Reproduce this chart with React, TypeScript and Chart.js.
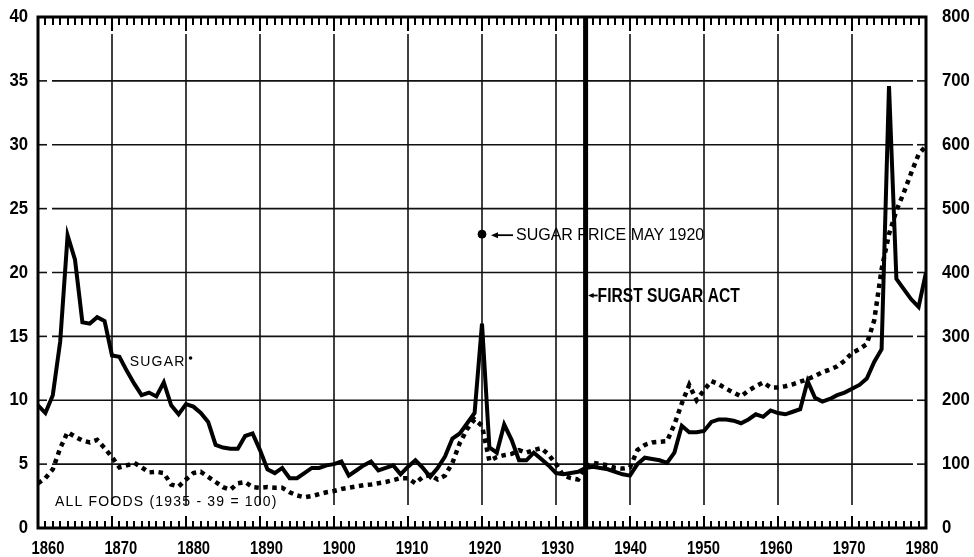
import React, { useEffect, useRef } from "react";
import { Chart, registerables } from "chart.js";

Chart.register(...registerables);

// ---------- data ----------
const years: number[] = [
  1860, 1861, 1862, 1863, 1864, 1865, 1866, 1867, 1868, 1869,
  1870, 1871, 1872, 1873, 1874, 1875, 1876, 1877, 1878, 1879,
  1880, 1881, 1882, 1883, 1884, 1885, 1886, 1887, 1888, 1889,
  1890, 1891, 1892, 1893, 1894, 1895, 1896, 1897, 1898, 1899,
  1900, 1901, 1902, 1903, 1904, 1905, 1906, 1907, 1908, 1909,
  1910, 1911, 1912, 1913, 1914, 1915, 1916, 1917, 1918, 1919,
  1920, 1921, 1922, 1923, 1924, 1925, 1926, 1927, 1928, 1929,
  1930, 1931, 1932, 1933, 1934, 1935, 1936, 1937, 1938, 1939,
  1940, 1941, 1942, 1943, 1944, 1945, 1946, 1947, 1948, 1949,
  1950, 1951, 1952, 1953, 1954, 1955, 1956, 1957, 1958, 1959,
  1960, 1961, 1962, 1963, 1964, 1965, 1966, 1967, 1968, 1969,
  1970, 1971, 1972, 1973, 1974, 1975, 1976, 1977, 1978, 1979,
  1980,
];

// Sugar retail price, cents per pound (left axis)
const sugarPrice: number[] = [
  9.6, 9.0, 10.4, 14.6, 22.9, 21.0, 16.1, 16.0, 16.5, 16.2,
  13.5, 13.4, 12.3, 11.3, 10.4, 10.6, 10.3, 11.4, 9.6, 8.9,
  9.7, 9.5, 9.0, 8.3, 6.5, 6.3, 6.2, 6.2, 7.2, 7.4,
  6.1, 4.6, 4.3, 4.7, 3.9, 3.9, 4.3, 4.7, 4.7, 4.9,
  5.0, 5.2, 4.1, 4.5, 4.9, 5.2, 4.5, 4.7, 4.9, 4.2,
  4.8, 5.3, 4.7, 4.0, 4.7, 5.6, 7.0, 7.4, 8.2, 9.0,
  16.0, 6.3, 5.9, 8.1, 6.9, 5.3, 5.3, 5.9, 5.4, 4.9,
  4.3, 4.2, 4.3, 4.4, 4.7, 4.8, 4.7, 4.6, 4.4, 4.2,
  4.1, 5.0, 5.5, 5.4, 5.3, 5.1, 5.9, 8.0, 7.5, 7.5,
  7.6, 8.3, 8.5, 8.5, 8.4, 8.2, 8.5, 8.9, 8.7, 9.2,
  9.0, 8.9, 9.1, 9.3, 11.5, 10.2, 9.9, 10.1, 10.4, 10.6,
  10.9, 11.2, 11.7, 13.0, 14.0, 34.6, 19.5, 18.7, 17.9, 17.3,
  20.0,
];

// All foods price index, 1935-39 = 100 (right axis)
const allFoodsIndex: number[] = [
  70, 78, 92, 125, 150, 143, 137, 134, 138, 125,
  111, 95, 98, 102, 95, 87, 88, 86, 68, 65,
  76, 86, 88, 80, 72, 64, 60, 70, 72, 64,
  63, 64, 63, 63, 56, 51, 48, 50, 53, 56,
  58, 61, 63, 65, 67, 68, 70, 72, 75, 78,
  78, 70, 80, 83, 76, 82, 102, 133, 155, 170,
  160, 105, 111, 114, 116, 122, 118, 122, 125, 115,
  100, 82, 78, 76, 96, 102, 100, 98, 94, 93,
  95, 122, 130, 134, 135, 136, 162, 195, 224, 200,
  216, 230, 225, 218, 212, 206, 215, 222, 228, 220,
  220, 222, 225, 229, 233, 238, 244, 248, 253, 262,
  274, 280, 288, 325, 405, 460, 497, 525, 556, 585,
  598,
];

// Single marked observation: sugar price in May 1920
const mayPointYear: number[] = [1920];
const mayPointPrice: number[] = [23.0];

const sugarActYear = 1934;

const xTickYears: number[] = [1860, 1870, 1880, 1890, 1900, 1910, 1920, 1930, 1940, 1950, 1960, 1970, 1980];
const leftTicks: number[] = [0, 5, 10, 15, 20, 25, 30, 35, 40];
const rightTicks: number[] = [0, 100, 200, 300, 400, 500, 600, 700, 800];

// annotation anchors (data units: [year, left-axis value])
const sugarLabelAt = [1872.4, 13.0];
const foodsLabelAt = [1862.3, 2.0];
const actLabelValue = 18.2;

const SANS = "'Liberation Sans', Arial, Helvetica, sans-serif";

function seg(ctx: CanvasRenderingContext2D, x1: number, y1: number, x2: number, y2: number) {
  ctx.beginPath();
  ctx.moveTo(x1, y1);
  ctx.lineTo(x2, y2);
  ctx.stroke();
}

// draw horizontally condensed text (the original uses a condensed bold face)
function condensed(
  ctx: CanvasRenderingContext2D,
  text: string,
  x: number,
  y: number,
  font: string,
  sx: number,
  align: "left" | "right" | "center"
) {
  ctx.save();
  ctx.font = font;
  ctx.textAlign = align;
  ctx.textBaseline = "middle";
  ctx.translate(x, y);
  ctx.scale(sx, 1);
  ctx.fillText(text, 0, 0);
  ctx.restore();
}

const paperPlugin = {
  id: "paperGrid",
  beforeDatasetsDraw(chart: any) {
    const { ctx, chartArea } = chart;
    const { left, right, top, bottom } = chartArea;
    const x = chart.scales.x;
    const y = chart.scales.y;
    ctx.save();
    ctx.strokeStyle = "#111";
    ctx.lineCap = "butt";
    ctx.setLineDash([]);

    // horizontal grid lines with short ticks at both axes
    ctx.lineWidth = 1.6;
    for (const v of leftTicks) {
      if (v === leftTicks[0] || v === leftTicks[leftTicks.length - 1]) continue;
      const py = y.getPixelForValue(v);
      seg(ctx, left, py, left + 9, py);
      seg(ctx, left + 14, py, right - 13, py);
      seg(ctx, right - 9, py, right, py);
    }

    // vertical decade grid lines
    for (const yr of xTickYears) {
      if (yr === xTickYears[0] || yr === xTickYears[xTickYears.length - 1]) continue;
      const px = x.getPixelForValue(yr);
      seg(ctx, px, top + 17, px, bottom - 23);
    }

    // frame
    ctx.strokeStyle = "#000";
    ctx.lineWidth = 3;
    ctx.strokeRect(left, top, right - left, bottom - top);

    // First Sugar Act line
    ctx.lineWidth = 5;
    const ax = x.getPixelForValue(sugarActYear);
    seg(ctx, ax, top, ax, bottom);
    ctx.restore();
  },
  afterDatasetsDraw(chart: any) {
    const { ctx, chartArea } = chart;
    const { top, bottom } = chartArea;
    const x = chart.scales.x;
    const xl = chart.scales.xl;
    const y = chart.scales.y;
    const y1 = chart.scales.y1;
    ctx.save();
    ctx.setLineDash([]);
    ctx.fillStyle = "#000";
    ctx.strokeStyle = "#000";

    // year ticks along top and bottom edges
    ctx.lineWidth = 2;
    ctx.lineCap = "butt";
    const firstYear = xTickYears[0];
    const lastYear = xTickYears[xTickYears.length - 1];
    for (let yr = firstYear + 1; yr < lastYear; yr++) {
      const px = Math.round(x.getPixelForValue(yr));
      const major = yr % 10 === 0;
      ctx.beginPath();
      ctx.moveTo(px, top);
      ctx.lineTo(px, top + (major ? 14 : 8));
      ctx.moveTo(px, bottom);
      ctx.lineTo(px, bottom - (major ? 12 : 7));
      ctx.stroke();
    }

    ctx.textBaseline = "middle";
    ctx.textAlign = "left";

    // axis labels (condensed bold)
    const tickFontX = `bold 18px ${SANS}`;
    const tickFontY = `bold 19px ${SANS}`;
    for (const yr of xTickYears) {
      condensed(ctx, String(yr), xl.getPixelForValue(yr), chartArea.bottom + 21, tickFontX, 0.82, "center");
    }
    for (const v of leftTicks) {
      condensed(ctx, String(v), chartArea.left - 10, y.getPixelForValue(v), tickFontY, 0.88, "right");
    }
    for (const v of rightTicks) {
      condensed(ctx, String(v), chartArea.right + 16, y1.getPixelForValue(v), tickFontY, 0.88, "left");
    }

    // SUGAR* label
    ctx.font = `14px ${SANS}`;
    (ctx as any).letterSpacing = "1.2px";
    const sx = x.getPixelForValue(sugarLabelAt[0]);
    const sy = y.getPixelForValue(sugarLabelAt[1]);
    ctx.fillText("SUGAR", sx, sy);
    const sw = ctx.measureText("SUGAR").width;
    ctx.beginPath();
    ctx.arc(sx + sw + 5, sy - 4, 1.8, 0, Math.PI * 2);
    ctx.fill();

    // ALL FOODS label
    const fx = x.getPixelForValue(foodsLabelAt[0]);
    const fy = y.getPixelForValue(foodsLabelAt[1]);
    ctx.fillText("ALL FOODS (1935 - 39 = 100)", fx, fy);
    (ctx as any).letterSpacing = "0px";

    // Sugar price May 1920 arrow + label
    const mx = x.getPixelForValue(mayPointYear[0]);
    const my = y.getPixelForValue(mayPointPrice[0]) + 1;
    ctx.lineWidth = 1.8;
    seg(ctx, mx + 12, my, mx + 31, my);
    ctx.beginPath();
    ctx.moveTo(mx + 9, my);
    ctx.lineTo(mx + 16, my - 3);
    ctx.lineTo(mx + 16, my + 3);
    ctx.closePath();
    ctx.fill();
    ctx.font = `16px ${SANS}`;
    ctx.fillText("SUGAR PRICE MAY 1920", mx + 34, my);

    // First Sugar Act arrow + label
    const ax = x.getPixelForValue(sugarActYear);
    const ay = y.getPixelForValue(actLabelValue);
    seg(ctx, ax + 5, ay, ax + 12, ay);
    ctx.beginPath();
    ctx.moveTo(ax + 2.5, ay);
    ctx.lineTo(ax + 8, ay - 2.5);
    ctx.lineTo(ax + 8, ay + 2.5);
    ctx.closePath();
    ctx.fill();
    condensed(ctx, "FIRST SUGAR ACT", ax + 12, ay + 1, `bold 20px ${SANS}`, 0.78, "left");
    ctx.restore();
  },
};

export default function App() {
  const canvasRef = useRef<HTMLCanvasElement | null>(null);

  useEffect(() => {
    document.body.style.margin = "0";
    const canvas = canvasRef.current;
    if (!canvas) return;

    const sugarData = years.map((yr, i) => ({ x: yr, y: sugarPrice[i] }));
    const foodsData = years.map((yr, i) => ({ x: yr, y: allFoodsIndex[i] }));
    const mayData = mayPointYear.map((yr, i) => ({ x: yr, y: mayPointPrice[i] }));

    const hiddenTicks = { display: false };

    const chart = new Chart(canvas, {
      type: "line",
      data: {
        datasets: [
          {
            label: "SUGAR",
            data: sugarData,
            xAxisID: "x",
            yAxisID: "y",
            borderColor: "#000",
            borderWidth: 4,
            pointRadius: 0,
            tension: 0,
            borderJoinStyle: "miter",
          },
          {
            label: "ALL FOODS (1935 - 39 = 100)",
            data: foodsData,
            xAxisID: "x",
            yAxisID: "y1",
            borderColor: "#000",
            borderWidth: 4.5,
            borderDash: [4.5, 4.5],
            borderCapStyle: "butt",
            pointRadius: 0,
            tension: 0,
          },
          {
            label: "SUGAR PRICE MAY 1920",
            data: mayData,
            xAxisID: "x",
            yAxisID: "y",
            showLine: false,
            pointRadius: 4,
            pointBackgroundColor: "#000",
            pointBorderColor: "#000",
          },
        ],
      },
      options: {
        animation: false,
        responsive: false,
        maintainAspectRatio: false,
        devicePixelRatio: 1,
        layout: { padding: { top: 17, left: 0, right: 0, bottom: 0 } },
        plugins: {
          legend: { display: false },
          tooltip: { enabled: false },
          title: { display: false },
        },
        scales: {
          x: {
            type: "linear",
            min: 1860,
            max: 1980,
            display: false,
          },
          xl: {
            type: "linear",
            position: "bottom",
            min: 1858.63,
            max: 1980.56,
            grid: { display: false, drawTicks: false },
            border: { display: false },
            ticks: hiddenTicks,
            afterFit: (s: any) => {
              s.height = 29;
            },
          },
          y: {
            type: "linear",
            position: "left",
            min: 0,
            max: 40,
            grid: { display: false, drawTicks: false },
            border: { display: false },
            ticks: hiddenTicks,
            afterFit: (s: any) => {
              s.width = 38;
            },
          },
          y1: {
            type: "linear",
            position: "right",
            min: 0,
            max: 800,
            grid: { display: false, drawTicks: false },
            border: { display: false },
            ticks: hiddenTicks,
            afterFit: (s: any) => {
              s.width = 48;
            },
          },
        },
      },
      plugins: [paperPlugin],
    } as any);

    return () => chart.destroy();
  }, []);

  return (
    <div style={{ width: 974, height: 557, background: "#fff" }}>
      <canvas ref={canvasRef} width={974} height={557} style={{ display: "block" }} />
    </div>
  );
}
